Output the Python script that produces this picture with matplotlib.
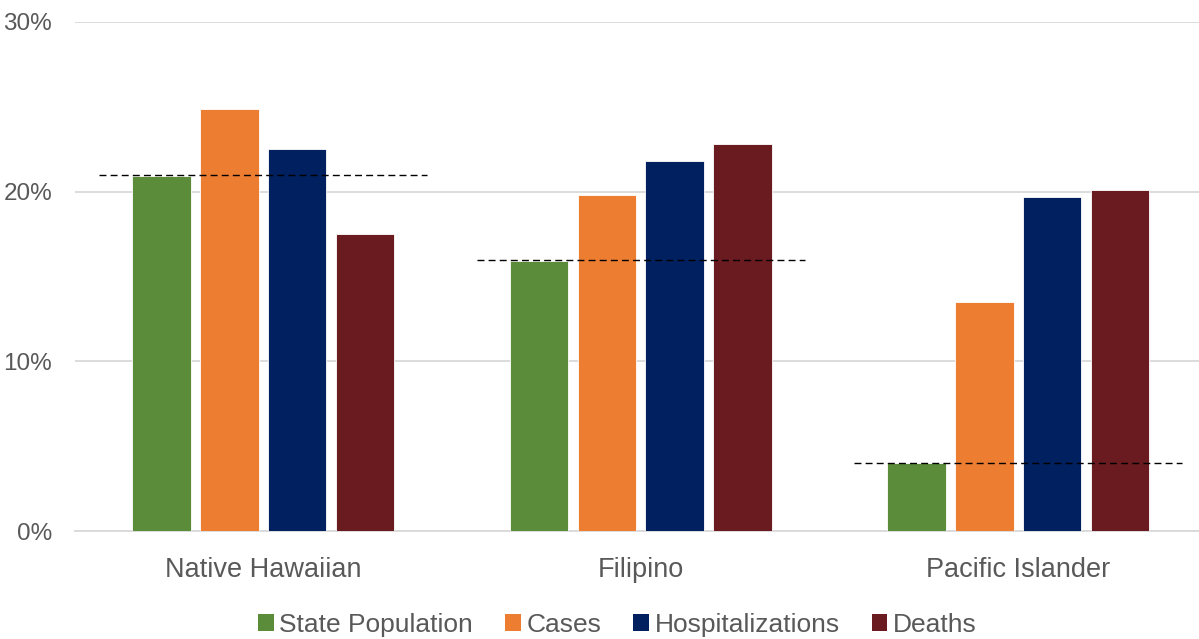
import numpy as np
import matplotlib
matplotlib.use("Agg")
import matplotlib.pyplot as plt
from matplotlib.patches import Patch

# Share of state population, cases, hospitalizations and deaths (%)
groups = ["Native Hawaiian", "Filipino", "Pacific Islander"]
series = ["State Population", "Cases", "Hospitalizations", "Deaths"]
state_population = [20.9, 15.9, 4.0]
cases = [24.9, 19.8, 13.5]
hospitalizations = [22.5, 21.8, 19.7]
deaths = [17.5, 22.8, 20.1]
population_ref = [21.0, 16.0, 4.0]
yticks = [0, 10, 20, 30]

colors = ["#5B8C3A", "#ED7D31", "#002060", "#6A1B1F"]
text_color = "#595959"

plt.rcParams["font.family"] = ["Liberation Sans", "DejaVu Sans"]

fig = plt.figure(figsize=(11.99, 6.39), dpi=100, facecolor="white")
ax = fig.add_axes([74.5 / 1199, 1 - 531 / 639, 1132.5 / 1199, (531 - 22) / 639])

x = np.arange(len(groups))
width = 0.155
step = 0.18
values = [state_population, cases, hospitalizations, deaths]
for i, (vals, c) in enumerate(zip(values, colors)):
    ax.bar(x + (i - 1.5) * step, vals, width, color=c, edgecolor="white",
           linewidth=0.6, zorder=3, label=series[i])

# dashed marker at the population share for each group
for xi, ref in zip(x, population_ref):
    ax.hlines(ref, xi - 0.435, xi + 0.435, colors="black", linestyles=(0, (5, 3)),
              linewidth=1.0, zorder=4)

ax.set_xlim(-0.5, len(groups) - 0.5)
ax.set_ylim(0, 30)
ax.set_yticks(yticks)
ax.set_yticklabels([f"{t}%" for t in yticks])
ax.set_xticks(x)
ax.set_xticklabels(groups)
ax.yaxis.grid(True, color="#D9D9D9", linewidth=1.3, zorder=0)
ax.set_axisbelow(True)
for s in ["top", "right", "left"]:
    ax.spines[s].set_visible(False)
ax.spines["bottom"].set_color("#D9D9D9")
ax.spines["bottom"].set_linewidth(1.3)
ax.tick_params(axis="both", length=0, colors=text_color)
ax.tick_params(axis="y", labelsize=17.5, pad=16)
ax.tick_params(axis="x", labelsize=19.5, pad=19)

handles = [Patch(facecolor=c, label=s) for c, s in zip(colors, series)]
fig.legend(handles=handles, loc="center", bbox_to_anchor=(0.515, 1 - 625 / 639),
           ncol=4, frameon=False, fontsize=19, handlelength=0.58, handleheight=0.58,
           handletextpad=0.22, columnspacing=1.22, labelcolor=text_color)

fig.savefig("out.png", dpi=100)
